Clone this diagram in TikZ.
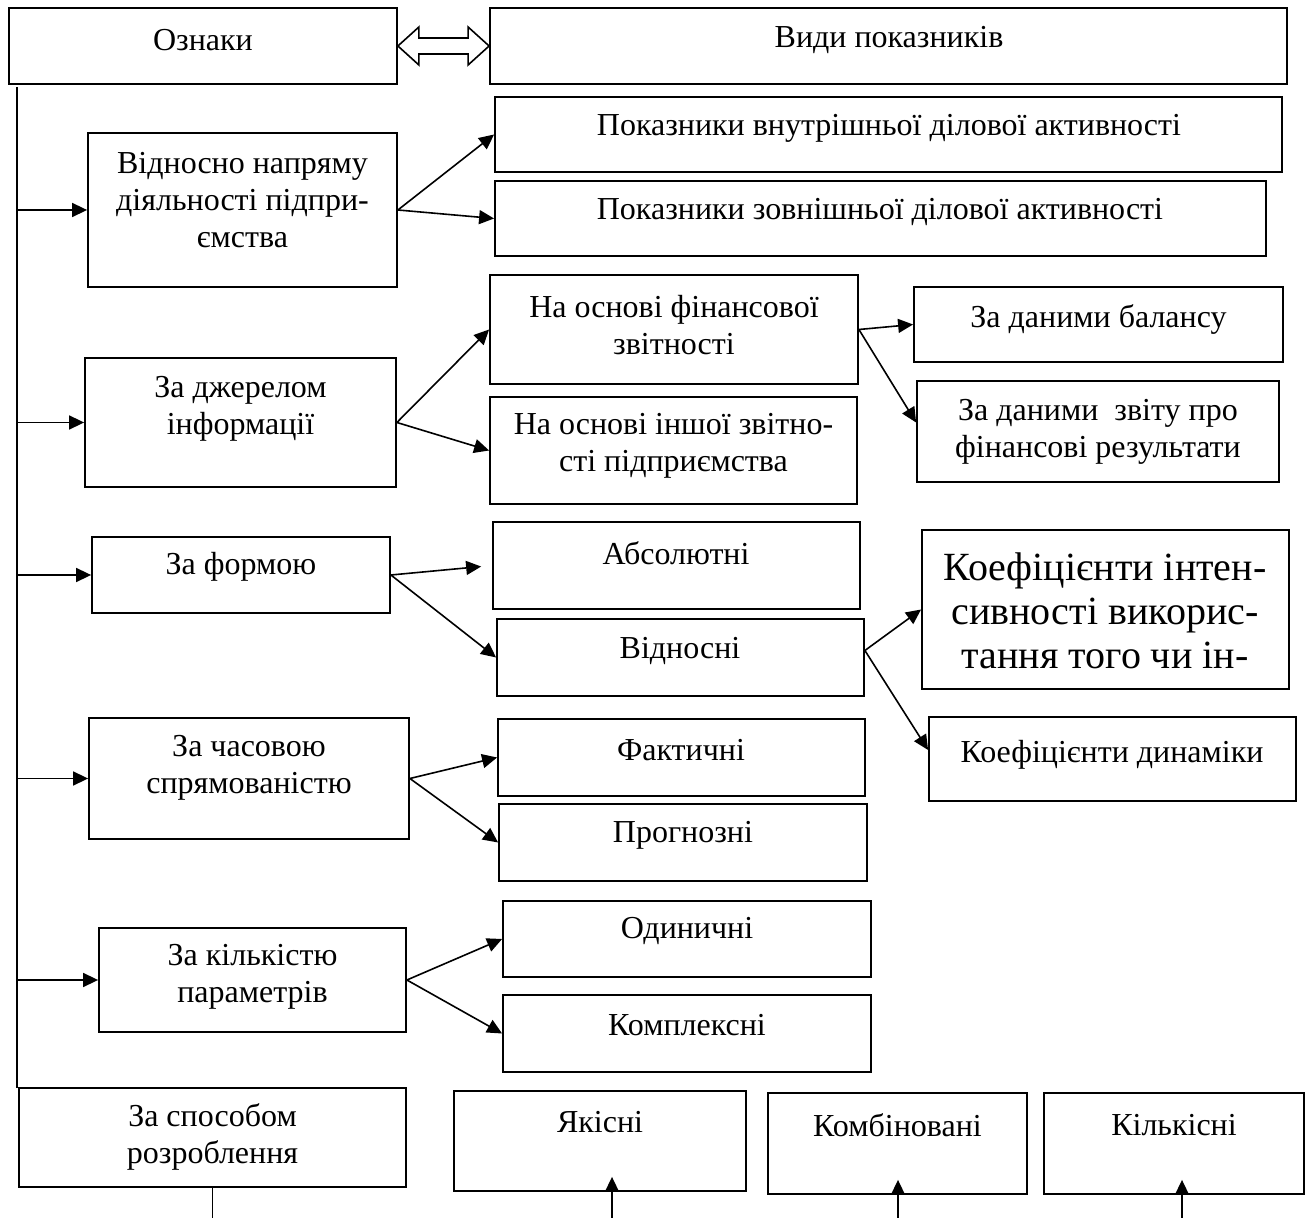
\documentclass[tikz,border=0pt]{standalone}
\usepackage{fontspec}
\setmainfont{Liberation Serif}
\usetikzlibrary{arrows.meta,calc}

\begin{document}
\begin{tikzpicture}[x=0.5pt,y=-0.5pt,
    box/.style={draw, line width=0.9pt, inner sep=0pt},
    lbl/.style={font=\fontsize{16}{18.5}\selectfont, align=center, inner sep=0pt},
    arr/.style={-{Triangle[length=7.5pt,width=7pt]}, line width=0.8pt}]
                \useasboundingbox (0,0) rectangle (1307,1218);

                % Header boxes
                \node[box, minimum width=194pt, minimum height=38pt] (oznaky) at (203,46) {};
                \node[box, minimum width=398.5pt, minimum height=38pt] (vydy) at (888.5,46) {};
                \node[lbl] (oznaky-t) at (203,40) {Ознаки};
                \node[lbl] (vydy-t) at (889,40) {Види показників};
                \draw[line width=0.8pt, fill=white] (oznaky.east) -- ++(21,-19) -- ++(0,11)
                    -- ($(vydy.west)+(-21,-8)$) -- ++(0,-11) -- (vydy.west) -- ++(-21,19) -- ++(0,-11)
                    -- ($(oznaky.east)+(21,8)$) -- ++(0,11) -- cycle;

                % Left column
                \node[box, minimum width=154.5pt, minimum height=77pt] (vidn) at (242.5,210) {};
                \node[box, minimum width=155.5pt, minimum height=64.5pt] (dzher) at (240.5,422.5) {};
                \node[box, minimum width=149pt, minimum height=38pt] (formoyu) at (241,575) {};
                \node[box, minimum width=160pt, minimum height=60.5pt] (chas) at (249,778.5) {};
                \node[box, minimum width=153.5pt, minimum height=52pt] (kilk) at (252.5,980) {};
                \node[box, minimum width=193.5pt, minimum height=49.5pt] (sposib) at (212.5,1137.5) {};
                \node[lbl] (vidn-t) at (242.5,200) {Відносно напряму\\діяльності підпри-\\ємства};
                \node[lbl] (dzher-t) at (240.5,408.5) {За джерелом\\інформації};
                \node[lbl] (formoyu-t) at (241,567) {За формою};
                \node[lbl] (chas-t) at (249,768) {За часовою\\спрямованістю};
                \node[lbl] (kilk-t) at (252.5,977) {За кількістю\\параметрів};
                \node[lbl] (sposib-t) at (212.5,1137) {За способом\\розроблення};

                % Middle column
                \node[box, minimum width=393.5pt, minimum height=37.5pt] (vnutr) at (888.5,134.5) {};
                \node[box, minimum width=385.5pt, minimum height=37.5pt] (zovn) at (880.5,218.5) {};
                \node[box, minimum width=184pt, minimum height=54.5pt] (fin) at (674,329.5) {};
                \node[box, minimum width=183.5pt, minimum height=53.5pt] (insh) at (673.5,450.5) {};
                \node[box, minimum width=183.5pt, minimum height=43.5pt] (absol) at (676.5,565.5) {};
                \node[box, minimum width=183.5pt, minimum height=38.5pt] (vidnos) at (680.5,657.5) {};
                \node[box, minimum width=183.5pt, minimum height=38.5pt] (fakt) at (681.5,757.5) {};
                \node[box, minimum width=184pt, minimum height=38.5pt] (progn) at (683,842.5) {};
                \node[box, minimum width=184pt, minimum height=38pt] (odyn) at (687,939) {};
                \node[box, minimum width=184pt, minimum height=38.5pt] (kompl) at (687,1033.5) {};
                \node[lbl] (vnutr-t) at (889,128) {Показники внутрішньої ділової активності};
                \node[lbl] (zovn-t) at (880,212) {Показники зовнішньої ділової активності};
                \node[lbl] (fin-t) at (674,325.5) {На основі фінансової\\звітності};
                \node[lbl] (insh-t) at (673.5,446) {На основі іншої звітно-\\сті підприємства};
                \node[lbl] (absol-t) at (676,553) {Абсолютні};
                \node[lbl] (vidnos-t) at (680,651) {Відносні};
                \node[lbl] (fakt-t) at (681,750) {Фактичні};
                \node[lbl] (progn-t) at (683,835) {Прогнозні};
                \node[lbl] (odyn-t) at (687,931) {Одиничні};
                \node[lbl] (kompl-t) at (687,1025) {Комплексні};

                % Right column
                \node[box, minimum width=184.5pt, minimum height=37.5pt] (balans) at (1098.5,324.5) {};
                \node[box, minimum width=181pt, minimum height=50.5pt] (zvit) at (1098,431.5) {};
                \node[box, minimum width=183.5pt, minimum height=79.5pt] (intens) at (1105.5,609.5) {};
                \node[box, minimum width=183.5pt, minimum height=42pt] (dynam) at (1112.5,759) {};
                \node[lbl] (balans-t) at (1098.5,320) {За даними балансу};
                \node[lbl] (zvit-t) at (1098,432) {За даними\ \ звіту про\\фінансові результати};
                \node[lbl, font=\fontsize{20}{22}\selectfont] (intens-t) at (1105,611) {Коефіцієнти інтен-\\сивності викорис-\\тання того чи ін-};
                \node[lbl] (dynam-t) at (1112,755) {Коефіцієнти динаміки};

                % Bottom row
                \node[box, minimum width=146pt, minimum height=50pt] (yakis) at (600,1141) {};
                \node[box, minimum width=129.5pt, minimum height=50.5pt] (kombin) at (897.5,1143.5) {};
                \node[box, minimum width=130pt, minimum height=50.5pt] (kilkis) at (1174,1143.5) {};
                \node[lbl] (yakis-t) at (600,1122) {Якісні};
                \node[lbl] (kombin-t) at (897.5,1125) {Комбіновані};
                \node[lbl] (kilkis-t) at (1174,1125) {Кількісні};

                % Main trunk with branches
                \coordinate (trunk-top) at (17,87);
                \coordinate (trunk-bot) at (17,1088);
                \draw[line width=0.8pt] (trunk-top) -- (trunk-bot);
                \foreach \n in {vidn,dzher,formoyu,chas,kilk}
                    \draw[arr] (trunk-top |- \n.west) -- (\n.west);

                % Sub-branches
                \draw[arr] (vidn.east) -- (vnutr.west);
                \draw[arr] (vidn.east) -- (zovn.west);
                \draw[arr] (dzher.east) -- (fin.west);
                \draw[arr] (dzher.east) -- (insh.west);
                \draw[arr] (fin.east) -- (balans.west);
                \draw[arr] (fin.east) -- ([yshift=4.5pt]zvit.west);
                \draw[arr, shorten >=5.5pt] (formoyu.east) -- (absol.west);
                \draw[arr] (formoyu.east) -- (vidnos.west);
                \draw[arr] ([yshift=3.5pt]vidnos.east) -- (intens.west);
                \draw[arr] ([yshift=3.5pt]vidnos.east) -- ([yshift=4.5pt]dynam.west);
                \draw[arr] (chas.east) -- (fakt.west);
                \draw[arr] (chas.east) -- (progn.west);
                \draw[arr] (kilk.east) -- (odyn.west);
                \draw[arr] (kilk.east) -- (kompl.west);

                % Lines leaving at the bottom edge
                \coordinate (yakis-in) at (612,1218);
                \coordinate (kombin-in) at (898,1218);
                \coordinate (kilkis-in) at (1182,1218);
                \draw[line width=0.8pt] (sposib.south) -- (sposib.south |- yakis-in);
                \draw[arr] (yakis-in) -- ($(yakis-in |- yakis.south)+(0,-15)$);
                \draw[arr] (kombin-in) -- ($(kombin-in |- kombin.south)+(0,-15)$);
                \draw[arr] (kilkis-in) -- ($(kilkis-in |- kilkis.south)+(0,-15)$);
            \end{tikzpicture}
\end{document}
